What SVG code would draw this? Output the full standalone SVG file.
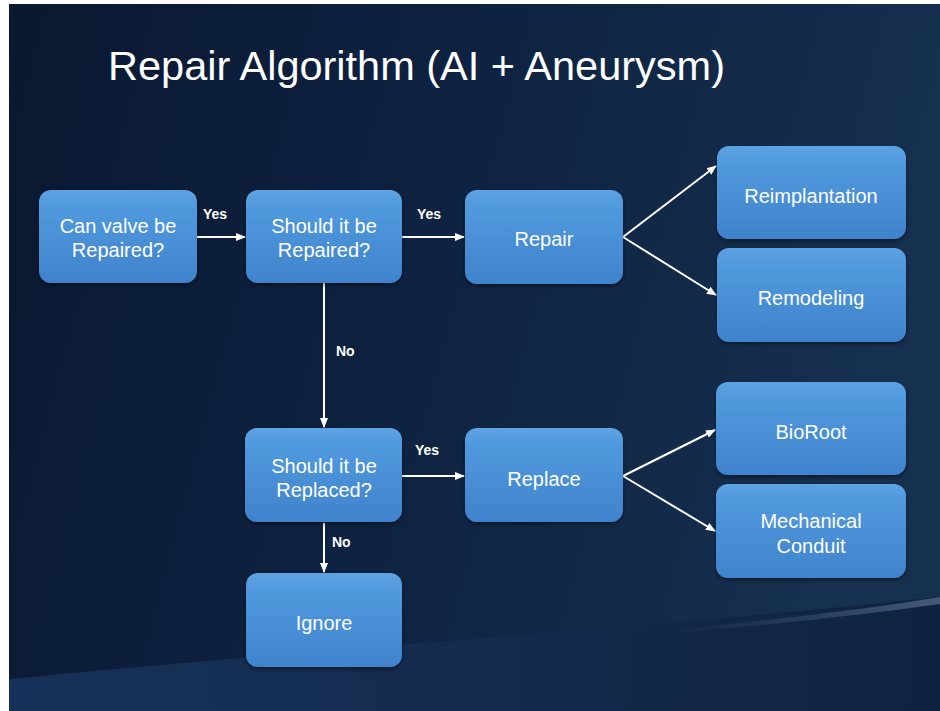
<svg xmlns="http://www.w3.org/2000/svg" width="940" height="711" viewBox="0 0 940 711">
<defs>
<linearGradient id="bg" x1="0" y1="0" x2="1" y2="0.2">
<stop offset="0" stop-color="#0a1830"/>
<stop offset="0.5" stop-color="#0e2241"/>
<stop offset="1" stop-color="#16304f"/>
</linearGradient>
<linearGradient id="band" x1="0" y1="0" x2="1" y2="0">
<stop offset="0" stop-color="#163159"/>
<stop offset="0.6" stop-color="#132a4c"/>
<stop offset="1" stop-color="#10223f"/>
</linearGradient>
<linearGradient id="glow" x1="0" y1="0" x2="1" y2="0">
<stop offset="0.3" stop-color="#6f8fb8" stop-opacity="0"/>
<stop offset="1" stop-color="#8aa6cc" stop-opacity="0.6"/>
</linearGradient>
<linearGradient id="box" x1="0" y1="0" x2="0" y2="1">
<stop offset="0" stop-color="#5ea3e3"/>
<stop offset="0.15" stop-color="#529ade"/>
<stop offset="1" stop-color="#3f83cc"/>
</linearGradient>
<filter id="sh" x="-10%" y="-10%" width="120%" height="130%">
<feDropShadow dx="0" dy="2" stdDeviation="2" flood-color="#000" flood-opacity="0.45"/>
</filter>
<marker id="ah" viewBox="0 0 10 10" refX="9" refY="5" markerWidth="5" markerHeight="5" orient="auto" markerUnits="strokeWidth">
<path d="M0,1 L10,5 L0,9 z" fill="#ffffff"/>
</marker>
<style>
.node rect{fill:url(#box);filter:url(#sh)}
.node text{font-family:"Liberation Sans",Arial,sans-serif;font-size:20px;fill:#ffffff;text-anchor:middle}
.lbl{font-family:"Liberation Sans",Arial,sans-serif;font-size:14px;font-weight:bold;fill:#ffffff}
.conn line{stroke:#ffffff;stroke-width:2;marker-end:url(#ah)}
</style>
</defs>
<rect x="0" y="0" width="940" height="711" fill="#ffffff"/>
<rect x="9" y="4" width="931" height="707" fill="url(#bg)"/>
<path d="M9,679 C300,650 650,628 940,597 L940,711 L9,711 z" fill="url(#band)"/>
<path d="M560,640 C720,626 850,612 940,597 L940,604 C850,617 720,630 560,643 z" fill="url(#glow)" opacity="0.7"/>
<text x="108" y="80" font-family="'Liberation Sans',Arial,sans-serif" font-size="41.5" fill="#ffffff">Repair Algorithm (AI + Aneurysm)</text>
<g class="conn">
<line x1="197" y1="237" x2="245" y2="237"/>
<line x1="402" y1="237" x2="464" y2="237"/>
<line x1="324" y1="283" x2="324" y2="427"/>
<line x1="402" y1="476" x2="464" y2="476"/>
<line x1="324" y1="523" x2="324" y2="572"/>
<line x1="623" y1="237" x2="716" y2="166"/>
<line x1="623" y1="237" x2="716" y2="295"/>
<line x1="623" y1="476" x2="715" y2="430"/>
<line x1="623" y1="476" x2="715" y2="531"/>
<text class="lbl" x="203" y="219">Yes</text>
<text class="lbl" x="417" y="219">Yes</text>
<text class="lbl" x="336" y="356">No</text>
<text class="lbl" x="415" y="455">Yes</text>
<text class="lbl" x="332" y="547">No</text>
</g>
<g id="n1" class="node"><rect x="39" y="190" width="158" height="93" rx="12"/><text x="118" y="233">Can valve be</text><text x="118" y="257">Repaired?</text></g>
<g id="n2" class="node"><rect x="246" y="190" width="156" height="93" rx="12"/><text x="324" y="233">Should it be</text><text x="324" y="257">Repaired?</text></g>
<g id="n3" class="node"><rect x="465" y="190" width="158" height="94" rx="12"/><text x="544" y="246">Repair</text></g>
<g id="n4" class="node"><rect x="717" y="146" width="189" height="93" rx="12"/><text x="811" y="203">Reimplantation</text></g>
<g id="n5" class="node"><rect x="717" y="248" width="189" height="94" rx="12"/><text x="811" y="305">Remodeling</text></g>
<g id="n6" class="node"><rect x="245" y="428" width="157" height="94" rx="12"/><text x="324" y="473">Should it be</text><text x="324" y="497">Replaced?</text></g>
<g id="n7" class="node"><rect x="465" y="428" width="158" height="94" rx="12"/><text x="544" y="486">Replace</text></g>
<g id="n8" class="node"><rect x="716" y="382" width="190" height="93" rx="12"/><text x="811" y="439">BioRoot</text></g>
<g id="n9" class="node"><rect x="716" y="484" width="190" height="94" rx="12"/><text x="811" y="528">Mechanical</text><text x="811" y="553">Conduit</text></g>
<g id="n10" class="node"><rect x="246" y="573" width="156" height="94" rx="12"/><text x="324" y="630">Ignore</text></g>
</svg>
